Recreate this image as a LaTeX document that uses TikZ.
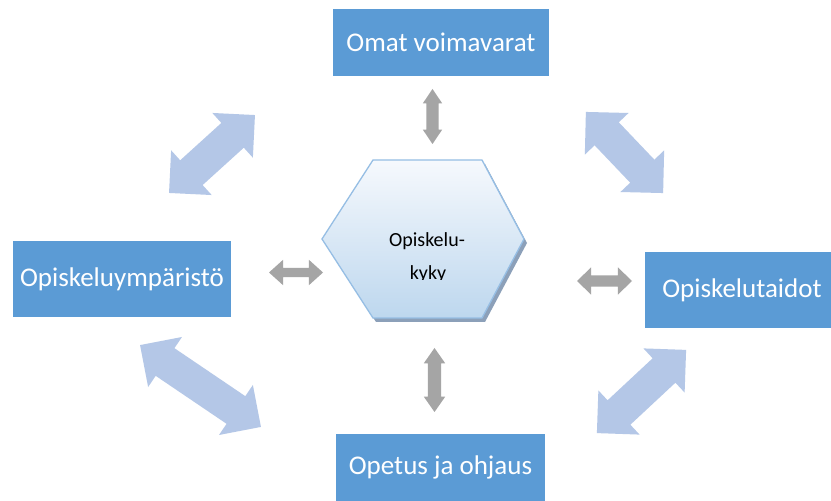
\documentclass[tikz,border=0pt]{standalone}
\usepackage{fontspec}
\setmainfont{Carlito}
\usetikzlibrary{shapes.arrows}
\definecolor{boxblue}{RGB}{91,155,213}
\definecolor{paleblue}{RGB}{180,199,231}
\definecolor{arrowgray}{RGB}{165,165,165}
\definecolor{hexedge}{RGB}{150,190,228}
\definecolor{hextop}{RGB}{246,249,253}
\definecolor{hexbot}{RGB}{189,215,238}
\definecolor{hexshadow}{RGB}{140,160,185}
\begin{document}
\begin{tikzpicture}[x=1pt,y=1pt,
  area/.style={fill=boxblue,text=white,inner sep=0pt,font=\fontsize{27}{30}\selectfont},
  bigarrow/.style={double arrow,fill=paleblue,inner xsep=0pt,inner ysep=16.5pt,
    double arrow head extend=13.5pt,double arrow tip angle=90},
  smallarrow/.style={double arrow,fill=arrowgray,inner xsep=0pt}]
\useasboundingbox (0,0) rectangle (831,501);
\fill[white] (0,0) rectangle (831,501);

\node[area,minimum width=216pt,minimum height=67pt] (voimavarat) at (441,458.5) {Omat voimavarat};
\node[area,minimum width=218pt,minimum height=76pt] (ymparisto) at (122,222) {Opiskeluympäristö};
\node[area,minimum width=194pt,minimum height=76pt] (taidot) at (742,211) {Opiskelutaidot};
\node[area,minimum width=209pt,minimum height=67pt] (ohjaus) at (440.5,33.5) {Opetus ja ohjaus};

\fill[hexshadow] (376,337) -- (485,337) -- (527,258)
  -- (485,179) -- (376,179) -- (325,258) -- cycle;
\draw[hexedge,line width=1.3pt,top color=hextop,bottom color=hexbot] (373,341)
  -- (482,341)
  -- (524,262)
  -- (482,183)
  -- (373,183)
  -- (322,262)
  -- cycle;
\node[anchor=base,font=\fontsize{20}{22}\selectfont] (hub) at (427,254) {Opiskelu-};
\begin{scope}
  \clip (322,221) rectangle (528,345);
  \node[anchor=base,font=\fontsize{20}{22}\selectfont] (hubkyky) at (428,221) {kyky};
\end{scope}

\node[smallarrow,rotate=90,minimum height=55pt,inner ysep=6pt,
  double arrow head extend=3.5pt,double arrow tip angle=68] (gN) at (432.5,384.5) {};
\node[smallarrow,rotate=90,minimum height=64pt,inner ysep=6.5pt,
  double arrow head extend=4pt,double arrow tip angle=70] (gS) at (434.5,121) {};
\node[smallarrow,minimum height=54pt,inner ysep=4.5pt,
  double arrow head extend=8pt,double arrow tip angle=84] (gW) at (296,228.5) {};
\node[smallarrow,minimum height=55pt,inner ysep=5.5pt,
  double arrow head extend=8pt,double arrow tip angle=88] (gE) at (604.5,220) {};

\node[bigarrow,rotate=42.2,minimum height=116pt] (bNW) at (212,347) {};
\node[bigarrow,rotate=-46.4,minimum height=112pt] (bNE) at (624.5,348.5) {};
\node[bigarrow,rotate=-34.1,minimum height=146pt] (bSW) at (200.5,115) {};
\node[bigarrow,rotate=43,minimum height=122pt] (bSE) at (641.5,109.5) {};
\end{tikzpicture}
\end{document}
